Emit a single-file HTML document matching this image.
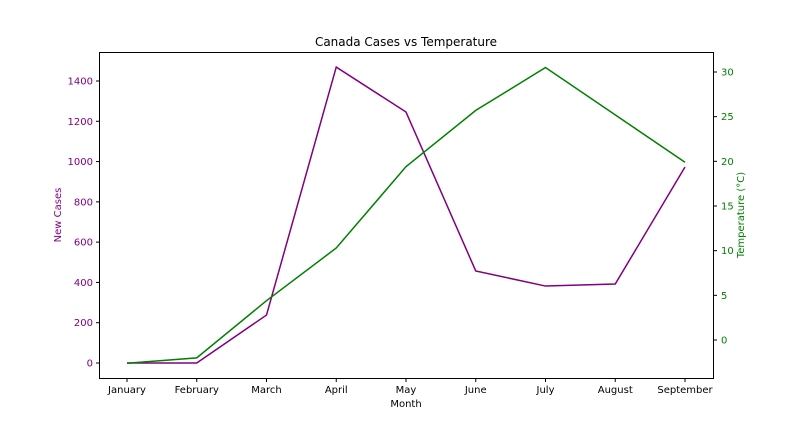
<!DOCTYPE html>
<html><head><meta charset="utf-8"><style>
body{margin:0;background:#fff;}
svg text{font-family:"DejaVu Sans","Liberation Sans",sans-serif;font-size:10px;}
</style></head><body>
<svg id="chart" width="792" height="432" xmlns="http://www.w3.org/2000/svg">
<rect width="792" height="432" fill="#fff"/>
<text x="406" y="46" text-anchor="middle" style="font-size:12px">Canada Cases vs Temperature</text>
<g id="marks"></g>
<rect x="99.5" y="52.5" width="614" height="326" fill="none" stroke="#000" stroke-width="1"/>
<text x="406" y="407" text-anchor="middle">Month</text>
<text transform="translate(61,215) rotate(-90)" text-anchor="middle" fill="purple">New Cases</text>
<text transform="translate(744,215) rotate(-90)" text-anchor="middle" fill="green">Temperature (°C)</text>
</svg>
<script>
const months=["January","February","March","April","May","June","July","August","September"];
const cases=[0,0,238,1469,1246,457,382,392,973];
const temps=[-2.6,-2.0,4.4,10.3,19.4,25.7,30.5,25.2,19.9];
const caseTicks=[0,200,400,600,800,1000,1200,1400];
const tempTicks=[0,5,10,15,20,25,30];
const NS="http://www.w3.org/2000/svg";
const g=document.getElementById('marks');
const x=i=>127+i*(685-127)/(months.length-1);
const yL=v=>363-v*(363-81)/1400;
const yR=v=>340-v*(340-72)/30;
function mk(t,a){const e=document.createElementNS(NS,t);for(const k in a)e.setAttribute(k,a[k]);g.appendChild(e);return e;}
months.forEach((m,i)=>{
 const t=mk('line',{x1:x(i),x2:x(i),y1:378.5,y2:382,stroke:'#000'});
 
 
 const l=mk('text',{x:x(i),y:393,'text-anchor':'middle'});l.textContent=m;
 
 
});
caseTicks.forEach(v=>{
 const t=mk('line',{x1:96,x2:99.5,y1:yL(v),y2:yL(v),stroke:'#000'});
 
 
 const l=mk('text',{x:93,y:yL(v)+3.5,'text-anchor':'end',fill:'purple'});l.textContent=v;
 
 
});
tempTicks.forEach(v=>{
 const t=mk('line',{x1:713.5,x2:717,y1:yR(v),y2:yR(v),stroke:'#000'});
 
 
 const l=mk('text',{x:721,y:yR(v)+3.5,fill:'green'});l.textContent=v;
 
 
});
const p1=mk('polyline',{points:cases.map((v,i)=>x(i)+','+yL(v)).join(' '),fill:'none',stroke:'purple','stroke-width':1.5});


const p2=mk('polyline',{points:temps.map((v,i)=>x(i)+','+yR(v)).join(' '),fill:'none',stroke:'green','stroke-width':1.5});


</script>
</body></html>
